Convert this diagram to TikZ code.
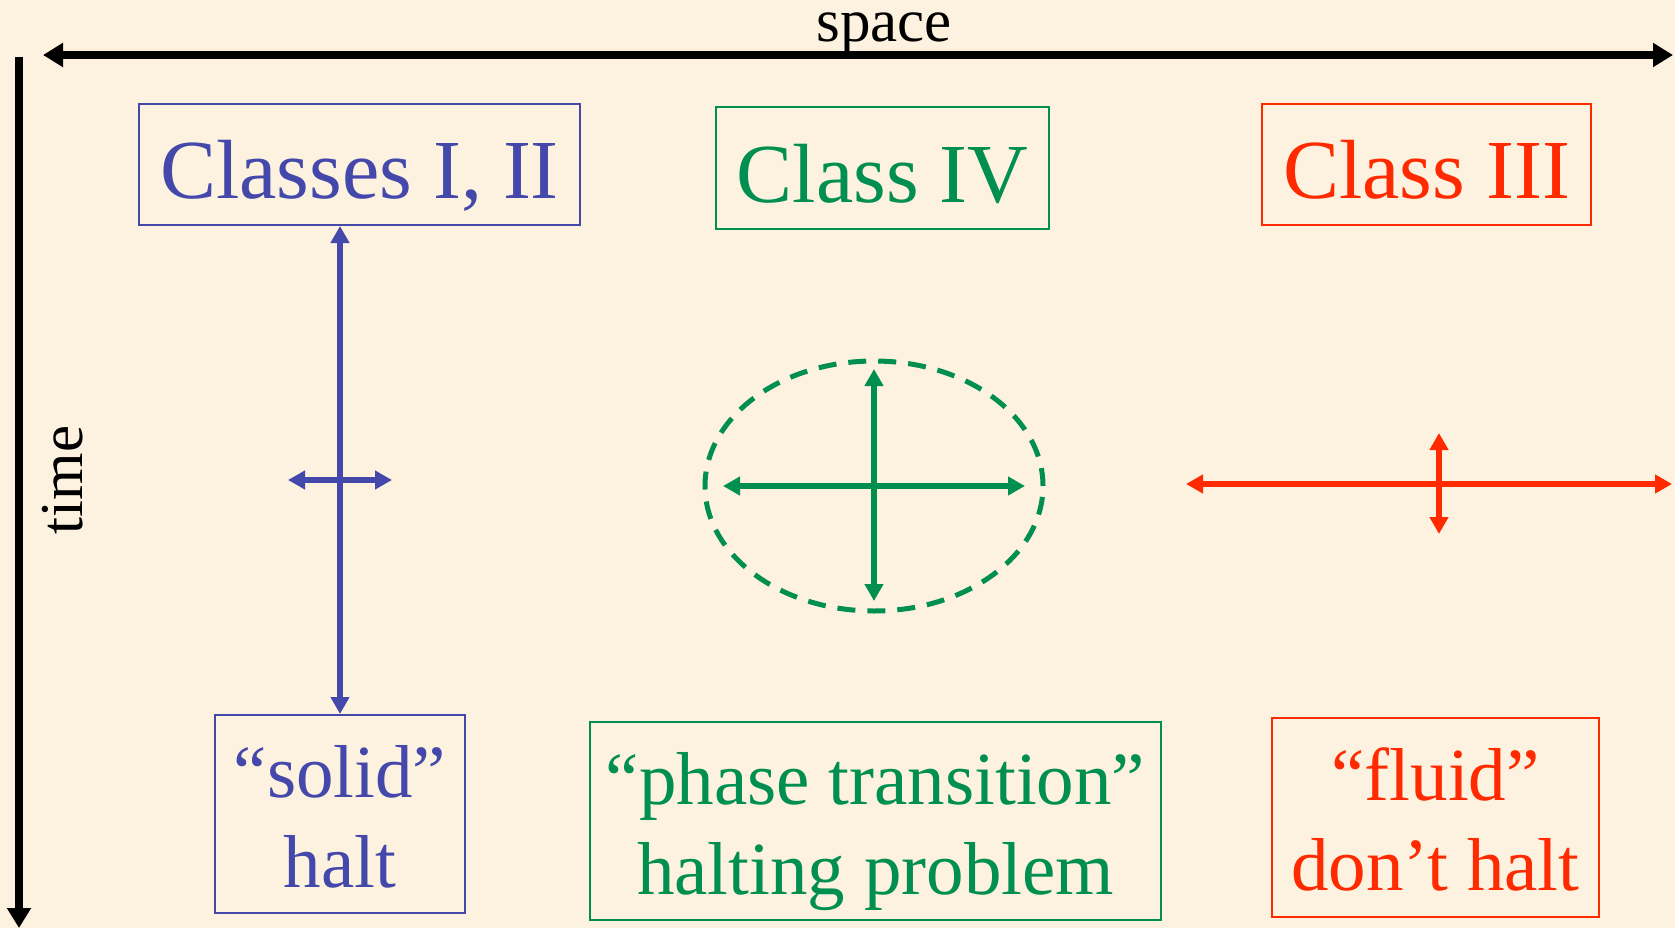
\documentclass[tikz,border=0pt]{standalone}
\usepackage{fontspec}
\setmainfont{Liberation Serif}
\usetikzlibrary{arrows.meta,shapes.geometric}
\definecolor{parchment}{HTML}{FCF2DF}
\definecolor{cablue}{HTML}{4448AA}
\definecolor{cagreen}{HTML}{008F50}
\definecolor{cared}{HTML}{FF2A00}
\begin{document}
\begin{tikzpicture}[
        x=1pt, y=-1pt,
        classbox/.style={draw, line width=2pt, inner sep=0pt, text height=69pt, text depth=0pt, font=\fontsize{84}{100}\selectfont},
        fatebox/.style={draw, line width=2pt, inner sep=0pt, align=center, text height=146pt, text depth=0pt, font=\fontsize{75}{90}\selectfont},
        flow/.style={line width=5.5pt, {Triangle[length=17pt,width=18pt]}-{Triangle[length=17pt,width=18pt]}},
        axis/.style={line width=7.5pt, -{Triangle[length=20pt,width=23pt]}},
        axislabel/.style={font=\fontsize{61}{70}\selectfont},
    ]
    \fill[parchment] (0,0) rectangle (1675,928);
    \useasboundingbox (0,0) rectangle (1675,928);

    % axes
    \coordinate (s0) at (43,55);
    \coordinate (s1) at (1673,55);
    \coordinate (t0) at (19,57);
    \coordinate (t1) at (19,928);
    \draw[axis, {Triangle[length=20pt,width=23pt]}-{Triangle[length=20pt,width=23pt]}] (s0) -- (s1);
    \draw[axis] (t0) -- (t1);
    \node[axislabel, anchor=base](space) at (884,42){space};
    \node[axislabel, anchor=base, rotate=90](time) at (82,480){time};

    % classes
    \node[classbox, cablue, minimum width=441pt, minimum height=121pt](c12) at (359.5,164.5){Classes I, II};
    \node[classbox, cagreen, minimum width=333pt, minimum height=122pt](c4) at (882.5,168){Class IV};
    \node[classbox, cared, minimum width=329pt, minimum height=121pt](c3) at (1426.5,164.5){Class III};

    % behaviours
    \node[fatebox, cablue, minimum width=250pt, minimum height=198pt](solid) at (340,814){“solid”\\halt};
    \node[fatebox, cagreen, minimum width=571pt, minimum height=198pt](phase) at (875.5,821){“phase transition”\\halting problem};
    \node[fatebox, cared, minimum width=327pt, minimum height=199pt](fluid) at (1435.5,817.5){“fluid”\\don’t halt};

    % blue cross
    \coordinate (bw) at (288,480);
    \coordinate (be) at (392,480);
    \draw[flow, cablue] (c12.south -| solid.north) -- (solid.north);
    \draw[flow, cablue] (bw) -- (be);

    % green cross
    \node[draw=cagreen, ellipse, line width=5pt, dash pattern=on 18pt off 12pt,
        minimum width=338pt, minimum height=250pt](blob) at (874,486){};
    \coordinate (gw) at (723,486);
    \coordinate (ge) at (1025,486);
    \coordinate (gn) at (874,369);
    \coordinate (gs) at (874,601);
    \draw[flow, cagreen] (gw) -- (ge);
    \draw[flow, cagreen] (gn) -- (gs);

    % red cross
    \coordinate (rw) at (1186,484);
    \coordinate (re) at (1672,484);
    \coordinate (rn) at (1439,433);
    \coordinate (rs) at (1439,534);
    \draw[flow, cared] (rw) -- (re);
    \draw[flow, cared] (rn) -- (rs);
\end{tikzpicture}
\end{document}
